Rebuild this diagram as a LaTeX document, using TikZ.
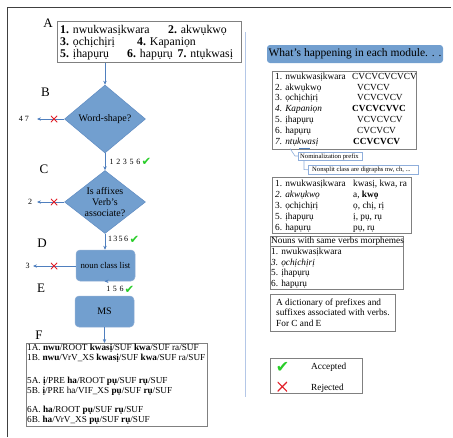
\documentclass[tikz,border=0pt]{standalone}
\usepackage{fontspec}
\setmainfont{Liberation Serif}
\newfontfamily\symfont{DejaVu Sans}
\usetikzlibrary{shapes.geometric,arrows.meta,calc}
\definecolor{dfill}{HTML}{729FCF}
\definecolor{dedge}{HTML}{5F8BC2}
\definecolor{ablue}{HTML}{4F7FBE}
\definecolor{gbord}{HTML}{808080}
\definecolor{cbord}{HTML}{8FAEDB}
\definecolor{sepblue}{HTML}{B4C7E7}
\definecolor{cgreen}{RGB}{40,205,40}
\definecolor{cred}{RGB}{225,30,40}
\tikzset{
  arr/.style={draw=ablue, line width=0.6pt, -{Stealth[length=4pt,width=3.4pt]}},
  dia/.style={diamond, fill=dfill, draw=dedge, line width=0.5pt, inner sep=0pt},
  rbox/.style={rectangle, rounded corners=4pt, fill=dfill, draw=dedge!70, line width=0.5pt, inner sep=0pt, font=\fontsize{10}{10}\selectfont},
  frame/.style={rectangle, draw=gbord, line width=0.6pt, inner sep=0pt, anchor=north west},
  cframe/.style={rectangle, draw=cbord, line width=0.6pt, inner sep=0pt, anchor=north west},
  lbl/.style={inner sep=0pt, font=\fontsize{13}{13}\selectfont},
  num/.style={inner sep=0pt, font=\fontsize{8}{8}\selectfont},
  tA/.style={inner sep=0pt, anchor=base west, font=\fontsize{11.8}{12}\selectfont},
  tF/.style={inner sep=0pt, anchor=base west, font=\fontsize{9.2}{10}\selectfont},
  tR/.style={inner sep=0pt, anchor=base west, font=\fontsize{9.3}{10}\selectfont},
  tC/.style={inner sep=0pt, anchor=base west, font=\fontsize{6.6}{7}\selectfont},
  chk/.style={inner sep=0pt, text=cgreen, font=\symfont\fontsize{11.5}{11.5}\selectfont},
  rej/.style={minimum size=6.5pt, inner sep=0pt, path picture={
     \draw[cred, line width=0.9pt] (path picture bounding box.north west) -- (path picture bounding box.south east)
       (path picture bounding box.north east) -- (path picture bounding box.south west);}},
}
\begin{document}
\begin{tikzpicture}[x=1pt,y=-1pt]
\path[use as bounding box] (0,0) rectangle (453,437);
% outer frame
\draw[line width=0.9pt, draw=black!75] (7,437) -- (7,7) -- (451,7);
% separator
\draw[sepblue, line width=0.7pt] (245.5,32) -- (245.5,397);

% ---------- left column ----------
\node[frame, minimum width=184pt, minimum height=41pt] (Abox) at (57,21) {};
\node[tA] (a1) at (60,33) {\textbf{1.} nwukwasịkwara};
\node[tA] (a2) at (168,33) {\textbf{2.} akwụkwọ};
\node[tA] (a3) at (60,45.5) {\textbf{3.} ọchịchịrị};
\node[tA] (a4) at (137,45.5) {\textbf{4.} Kapaniọn};
\node[tA] (a5) at (60,57.5) {\textbf{5.} ịhapụrụ};
\node[tA] (a6) at (127,57.5) {\textbf{6.} hapụrụ};
\node[tA] (a7) at (177.5,57.5) {\textbf{7.} ntụkwasị};

\node[lbl] (LA) at (48,23) {A};
\node[lbl] (LB) at (45.5,92) {B};
\node[lbl] (LC) at (44,169.5) {C};
\node[lbl] (LD) at (42,243.5) {D};
\node[lbl] (LE) at (41,288.5) {E};
\node[lbl] (LF) at (39,335) {F};

\node[dia, minimum width=81pt, minimum height=68pt,
      label={[font=\fontsize{10}{10}\selectfont]center:Word-shape?}] (B) at (105,119) {};
\node[dia, minimum width=81pt, minimum height=63pt,
      label={[font=\fontsize{10}{10.7}\selectfont, align=center]center:Is affixes\\Verb's\\associate?}] (C) at (105,202) {};
\node[rbox, minimum width=59pt, minimum height=31pt, font=\fontsize{8.8}{9}\selectfont] (D) at (105.5,265.5) {noun class list};
\node[rbox, minimum width=59pt, minimum height=31pt] (E) at (104.5,311.5) {MS};

\node[frame, minimum width=181pt, minimum height=83pt] (F) at (26,343) {};
\node[tF] (f1) at (27,350.5) {1A. \textbf{nwu}/ROOT \textbf{kwasị}/SUF \textbf{kwa}/SUF ra/SUF};
\node[tF] (f2) at (27,360.5) {1B. \textbf{nwu}/VrV\_XS \textbf{kwasị}/SUF \textbf{kwa}/SUF ra/SUF};
\node[tF] (f3) at (27,383.3) {5A. \textbf{ị}/PRE \textbf{ha}/ROOT \textbf{pụ}/SUF \textbf{rụ}/SUF};
\node[tF] (f4) at (27,393.3) {5B. \textbf{ị}/PRE ha/VIF\_XS \textbf{pụ}/SUF \textbf{rụ}/SUF};
\node[tF] (f5) at (27,412.7) {6A. \textbf{ha}/ROOT \textbf{pụ}/SUF \textbf{rụ}/SUF};
\node[tF] (f6) at (27,422.3) {6B. \textbf{ha}/VrV\_XS \textbf{pụ}/SUF \textbf{rụ}/SUF};

% vertical flow
\draw[arr] (B.north |- Abox.south) -- (B.north);
\draw[arr] (B.south) -- (C.north);
\draw[arr] (C.south) -- (C.south |- D.north);
\draw[arr] (D.south) -- (D.south -| E.north);
\draw[arr] (E.south) -- (E.south |- F.north);

% pass labels
\node[num] (p1) at (125,161.7) {1\,\,2\,\,3\,\,5\,\,6};
\node[chk] (k1) at (146.5,162) {✔};
\node[num] (p2) at (118,239) {1\,3\,5\,6};
\node[chk] (k2) at (134.5,240) {✔};
\node[num] (p3) at (115,289.3) {1\,\,5\,\,6};
\node[chk] (k3) at (129.5,289.5) {✔};

% rejections
\coordinate (rB) at (37,119);
\coordinate (rC) at (37,202);
\coordinate (rD) at (33,266);
\draw[arr] (B.west) -- (rB);
\draw[arr] (C.west) -- (rC);
\draw[arr] (D.west |- rD) -- (rD);
\node[rej] (xB) at (54,119) {};
\node[rej] (xC) at (54,202) {};
\node[rej] (xD) at (54,266) {};
\node[num] (n47) at (24,119) {4 7};
\node[num] (n2) at (30,202) {2};
\node[num] (n3) at (27.5,266) {3};

% ---------- right column ----------
\node[rectangle, rounded corners=3pt, fill=dfill, inner sep=0pt, minimum width=176pt, minimum height=18pt,
      font=\fontsize{11.5}{11.5}\selectfont] (hdr) at (355,54) {What's happening in each module. . .};

\node[frame, minimum width=144pt, minimum height=78pt] (R1) at (272,71) {};
\node[tR] (r11) at (275,79.2) {1. nwukwasịkwara};
\node[tR] (r12) at (275,90) {2. akwụkwọ};
\node[tR] (r13) at (275,100.8) {3. ọchịchịrị};
\node[tR] (r14) at (275,111.6) {\itshape 4. Kapaniọn};
\node[tR] (r15) at (275,122.4) {5. ịhapụrụ};
\node[tR] (r16) at (275,133.2) {6. hapụrụ};
\node[tR] (r17) at (275,144) {\itshape 7. ntụkwasị};
\node[tR] (s11) at (352,79.2) {CVCVCVCVCV};
\node[tR] (s12) at (357,90) {VCVCV};
\node[tR] (s13) at (357,100.8) {VCVCVCV};
\node[tR] (s14) at (352,111.6) {\textbf{CVCVCVVC}};
\node[tR] (s15) at (357,122.4) {VCVCVCV};
\node[tR] (s16) at (357,133.2) {CVCVCV};
\node[tR] (s17) at (353,144) {\textbf{CCVCVCV}};

% callouts
\draw[ablue, line width=1.3pt] (299,148.3) -- (310,148.3);
\node[cframe, minimum width=64pt, minimum height=8pt] (c1) at (298,152) {};
\node[tC] (c1t) at (300,158.3) {Nominalization prefix};
\coordinate (c1a) at (290,148.5);
\draw[cbord, line width=0.6pt] (c1a) -- (295,156) -- (c1.west |- 0,156);
\node[cframe, minimum width=110pt, minimum height=9pt] (c2) at (308,165) {};
\node[tC] (c2t) at (312,171.7) {Nonsplit class are digraphs nw, ch, ...};
\draw[cbord, line width=0.6pt] (c1.south west -| 304,0) -- (304,169.5) -- (c2.west);

\node[frame, minimum width=139pt, minimum height=56pt] (R2) at (272,177) {};
\node[tR] (r21) at (275,186.7) {1. nwukwasịkwara};
\node[tR] (r22) at (275,197.5) {\itshape 2. akwụkwọ};
\node[tR] (r23) at (275,208.3) {3. ọchịchịrị};
\node[tR] (r24) at (275,219.1) {5. ịhapụrụ};
\node[tR] (r25) at (275,230) {6. hapụrụ};
\node[tR] (s21) at (353,186.7) {kwasị, kwa, ra};
\node[tR] (s22) at (353,197.5) {a, \textbf{kwọ}};
\node[tR] (s23) at (353,208.3) {ọ, chị, rị};
\node[tR] (s24) at (353,219.1) {ị, pụ, rụ};
\node[tR] (s25) at (353,230) {pụ, rụ};

\node[frame, minimum width=133pt, minimum height=53pt] (R3) at (270,236) {};
\draw[gbord, line width=0.6pt] (R3.west |- 0,246.5) -- (R3.east |- 0,246.5);
\node[tR] (r30) at (271,243.3) {Nouns with same verbs morphemes};
\node[tR] (r31) at (271,254.3) {1. nwukwasịkwara};
\node[tR] (r32) at (271,265) {\itshape 3. ọchịchịrị};
\node[tR] (r33) at (271,275.6) {5. ịhapụrụ};
\node[tR] (r34) at (271,286.4) {6. hapụrụ};

\node[frame, minimum width=125pt, minimum height=37pt] (R4) at (270,294) {};
\node[tR] (r41) at (276,305) {A dictionary of prefixes and};
\node[tR] (r42) at (276,315.5) {suffixes associated with verbs.};
\node[tR] (r43) at (276,326) {For C and E};

\node[frame, minimum width=92pt, minimum height=35pt] (leg) at (270,358.3) {};
\node[chk, font=\symfont\fontsize{16}{16}\selectfont] (lk) at (282.5,367.5) {✔};
\node[rej, minimum size=9.5pt, path picture={
     \draw[cred, line width=1.1pt] (path picture bounding box.north west) -- (path picture bounding box.south east)
       (path picture bounding box.north east) -- (path picture bounding box.south west);}] (lx) at (282.3,386.7) {};
\node[tR] (la) at (311,369.3) {Accepted};
\node[tR] (lr) at (311,390.7) {Rejected};
\end{tikzpicture}
\end{document}
